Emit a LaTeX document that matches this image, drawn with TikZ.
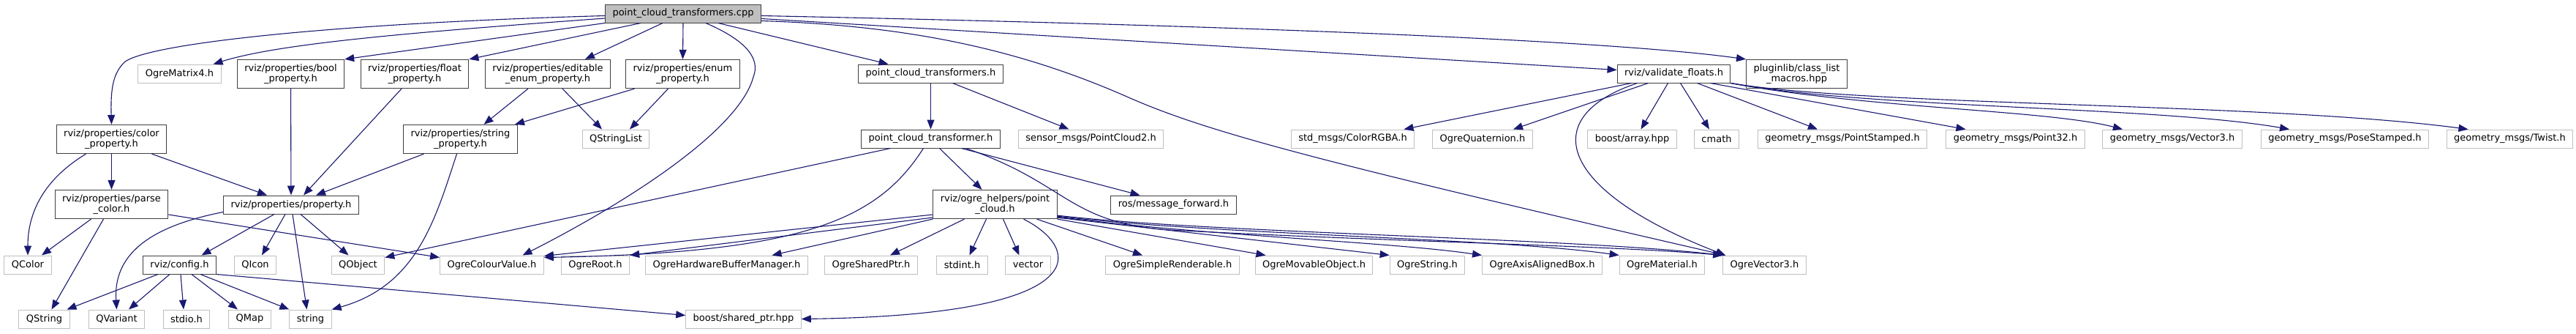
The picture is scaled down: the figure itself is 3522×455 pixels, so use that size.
\documentclass[tikz,border=0pt]{standalone}
\usepackage{fontspec}
\setmainfont{DejaVu Sans}
\usepackage{xcolor}
\usepackage{tikz}
\usetikzlibrary{arrows.meta}

\definecolor{navy}{HTML}{191970}
\definecolor{grey75}{HTML}{BFBFBF}

\begin{document}
\begin{tikzpicture}[x=1pt,y=-1pt,>={Triangle[length=13pt,width=10pt]},
   font=\fontsize{13}{14.3}\selectfont,
   fbase/.style={rectangle,draw,fill=white,line width=1pt,align=center,
     inner xsep=10pt,inner ysep=6pt,minimum height=25pt},
   fdoc/.style={fbase,draw=black!75},
   fext/.style={fbase,draw=grey75},
   dep/.style={->,color=navy,line width=1.1pt}]
  \useasboundingbox (0,0) rectangle (3522,455);

  % files
  \node[fdoc,fill=grey75] (cpp) at (934,18.5) {point\_cloud\_transformers.cpp};

  \node[fext] (matrix4) at (245.5,100.5) {OgreMatrix4.h};
  \node[fdoc] (boolp)   at (397.5,101)   {rviz/properties/bool\\\_property.h};
  \node[fdoc] (floatp)  at (567,101)     {rviz/properties/float\\\_property.h};
  \node[fdoc] (editp)   at (749,101)     {rviz/properties/editable\\\_enum\_property.h};
  \node[fdoc] (enump)   at (933.5,101)   {rviz/properties/enum\\\_property.h};
  \node[fdoc] (pcts)    at (1272.5,100.5) {point\_cloud\_transformers.h};
  \node[fdoc] (valid)   at (2288.5,100.5) {rviz/validate\_floats.h};
  \node[fdoc] (plugin)  at (2456.5,101)  {pluginlib/class\_list\\\_macros.hpp};

  \node[fdoc] (colorp)    at (152.5,190)  {rviz/properties/color\\\_property.h};
  \node[fdoc] (stringp)   at (629.5,190)  {rviz/properties/string\\\_property.h};
  \node[fext] (qstrlist)  at (842,189.5)  {QStringList};
  \node[fdoc] (pctr)      at (1272.5,189.5) {point\_cloud\_transformer.h};
  \node[fext] (pc2)       at (1491.5,189.5) {sensor\_msgs/PointCloud2.h};
  \node[fext] (rgba)      at (1849.5,189.5) {std\_msgs/ColorRGBA.h};
  \node[fext] (quat)      at (2027,189.5) {OgreQuaternion.h};
  \node[fext] (array)     at (2231.5,189.5) {boost/array.hpp};
  \node[fext] (cmath)     at (2347,189.5) {cmath};
  \node[fext] (ptstamped) at (2519,189.5) {geometry\_msgs/PointStamped.h};
  \node[fext] (pt32)      at (2755.5,189.5) {geometry\_msgs/Point32.h};
  \node[fext] (vec3msg)   at (2970,189.5) {geometry\_msgs/Vector3.h};
  \node[fext] (posest)    at (3206,189.5) {geometry\_msgs/PoseStamped.h};
  \node[fext] (twist)     at (3431.5,189.5) {geometry\_msgs/Twist.h};

  \node[fdoc] (parsec) at (152.5,279)  {rviz/properties/parse\\\_color.h};
  \node[fdoc] (prop)   at (398,279.5)  {rviz/properties/property.h};
  \node[fdoc] (pcloud) at (1360.5,279) {rviz/ogre\_helpers/point\\\_cloud.h};
  \node[fdoc] (msgfwd) at (1604.5,279.5) {ros/message\_forward.h};

  \node[fext] (qcolor)   at (38,361.5)   {QColor};
  \node[fdoc] (config)   at (245.5,361.5) {rviz/config.h};
  \node[fext] (qicon)    at (349,361.5)  {QIcon};
  \node[fext] (qobject)  at (489.5,361.5) {QObject};
  \node[fext] (colour)   at (672.5,361.5) {OgreColourValue.h};
  \node[fext] (root)     at (814,361.5)  {OgreRoot.h};
  \node[fext] (hwbuf)    at (993.5,361.5) {OgreHardwareBufferManager.h};
  \node[fext] (shptr)    at (1191,361.5) {OgreSharedPtr.h};
  \node[fext] (stdint)   at (1315.5,361.5) {stdint.h};
  \node[fext] (vector)   at (1405.5,361.5) {vector};
  \node[fext] (simple)   at (1603,361.5) {OgreSimpleRenderable.h};
  \node[fext] (movable)  at (1796.5,361.5) {OgreMovableObject.h};
  \node[fext] (ogrestr)  at (1951.5,361.5) {OgreString.h};
  \node[fext] (aabb)     at (2108.5,361.5) {OgreAxisAlignedBox.h};
  \node[fext] (material) at (2272.5,361.5) {OgreMaterial.h};
  \node[fext] (ogrevec)  at (2412.5,361.5) {OgreVector3.h};

  \node[fext] (qstring)  at (60.5,435.5)  {QString};
  \node[fext] (qvariant) at (159.5,435.5) {QVariant};
  \node[fext] (stdio)    at (255,435.5)   {stdio.h};
  \node[fext] (qmap)     at (341.5,435.5) {QMap};
  \node[fext] (string)   at (424.5,435.5) {string};
  \node[fext] (boostsp)  at (1016.5,435.5) {boost/shared\_ptr.hpp};

  % includes of the .cpp
  \draw[dep] ([yshift=-3pt]cpp.west) .. controls (450,32) and (200,60) .. (170,85)
     .. controls (155,100) and (151,120) .. (colorp.north);
  \draw[dep] ([yshift=-6.5pt]cpp.west) .. controls (550,45) and (380,60) .. ([xshift=-11pt]matrix4.north east);
  \draw[dep] (cpp.south west) -- (boolp.north east);
  \draw[dep] ([xshift=49pt]cpp.south west) -- (floatp.north east);
  \draw[dep] ([xshift=-28pt]cpp.south) -- ([xshift=51pt]editp.north);
  \draw[dep] (cpp.south) -- (enump.north);
  \draw[dep] ([xshift=31pt]cpp.south) .. controls (1020,55) and (1040,80) .. (1030,105)
     .. controls (1010,180) and (850,280) .. ([xshift=42pt]colour.north);
  \draw[dep] ([xshift=48pt]cpp.south) -- ([xshift=-58pt]pcts.north);
  \draw[dep] ([yshift=-7pt]cpp.east) -- ([yshift=5pt]valid.west);
  \draw[dep] ([yshift=-3pt]cpp.east) .. controls (1700,35) and (2200,55) .. (plugin.north west);
  \draw[dep] ([yshift=-10pt]cpp.east) .. controls (1250,35) and (1400,70) .. (1543,133)
     .. controls (1650,180) and (1800,220) .. ([xshift=4pt]ogrevec.north west);

  % properties
  \draw[dep] ([xshift=-35pt]colorp.south) .. controls (60,245) and (38,290) .. (qcolor.north);
  \draw[dep] (colorp) -- (parsec);
  \draw[dep] ([xshift=55pt]colorp.south) -- ([xshift=-33pt]prop.north);
  \draw[dep] ([xshift=-28pt]parsec.south) -- ([xshift=19pt]qcolor.north);
  \draw[dep] ([xshift=-11pt]parsec.south) -- ([xshift=10pt]qstring.north);
  \draw[dep] ([yshift=-14pt]parsec.east) -- ([yshift=10pt]colour.west);
  \draw[dep] ([yshift=-10pt]prop.west) .. controls (200,310) and (155,350) .. (qvariant.north);
  \draw[dep] ([xshift=-23pt]prop.south) -- ([xshift=30pt]config.north);
  \draw[dep] ([xshift=-8pt]prop.south) -- ([xshift=9pt]qicon.north);
  \draw[dep] ([xshift=2pt]prop.south) -- ([xshift=-5pt]string.north);
  \draw[dep] ([xshift=13pt]prop.south) -- ([xshift=-13pt]qobject.north);
  \draw[dep] (boolp) -- (prop);
  \draw[dep] ([xshift=-18pt]floatp.south) -- ([xshift=17pt]prop.north);
  \draw[dep] ([xshift=-50pt]stringp.south) -- ([xshift=34pt]prop.north);
  \draw[dep] ([xshift=-5pt]stringp.south) .. controls (595,300) and (570,390) .. (string.north east);
  \draw[dep] ([xshift=-27pt]editp.south) -- ([xshift=32pt]stringp.north);
  \draw[dep] ([xshift=20pt]editp.south) -- ([xshift=-19pt]qstrlist.north);
  \draw[dep] ([xshift=-66pt]enump.south) -- ([xshift=-4pt]stringp.north east);
  \draw[dep] ([xshift=-20pt]enump.south) -- ([xshift=19pt]qstrlist.north);

  % config
  \draw[dep] ([xshift=-29.5pt]config.south) -- ([xshift=-4pt]qstring.north east);
  \draw[dep] ([xshift=-13.5pt]config.south) -- ([xshift=16.5pt]qvariant.north);
  \draw[dep] ([xshift=1.5pt]config.south) -- ([xshift=-4pt]stdio.north);
  \draw[dep] ([xshift=16.5pt]config.south) -- ([xshift=-16.5pt]qmap.north);
  \draw[dep] ([xshift=28.5pt]config.south) -- (string.north west);
  \draw[dep] (config.south east) -- ([yshift=5pt]boostsp.west);

  % transformers
  \draw[dep] (pcts) -- (pctr);
  \draw[dep] ([xshift=30pt]pcts.south) -- ([xshift=-30pt]pc2.north);
  \draw[dep] ([xshift=-55pt]pctr.south) -- ([yshift=10pt]qobject.east);
  \draw[dep] ([xshift=-10pt]pctr.south) .. controls (1200,300) and (1100,345) .. ([yshift=10pt]colour.east);
  \draw[dep] ([xshift=12pt]pctr.south) -- ([xshift=-18pt]pcloud.north);
  \draw[dep] ([xshift=42pt]pctr.south) -- ([xshift=-46pt]msgfwd.north);
  \draw[dep] ([xshift=48pt]pctr.south) .. controls (1460,250) and (1460,305) .. (1600,314)
     .. controls (1900,330) and (2200,335) .. (ogrevec.north west);

  % point cloud
  \draw[dep] ([yshift=-14pt]pcloud.west) -- ([yshift=12pt]colour.east);
  \draw[dep] ([yshift=-18pt]pcloud.west) -- (root.north east);
  \draw[dep] (pcloud.south west) -- ([xshift=62pt]hwbuf.north);
  \draw[dep] ([xshift=-42pt]pcloud.south) -- ([xshift=26pt]shptr.north);
  \draw[dep] ([xshift=-12pt]pcloud.south) -- ([xshift=10pt]stdint.north);
  \draw[dep] ([xshift=11pt]pcloud.south) -- ([xshift=-12pt]vector.north);
  \draw[dep] ([xshift=57pt]pcloud.south) -- ([xshift=-41pt]simple.north);
  \draw[dep] (pcloud.south east) -- ([xshift=-66pt]movable.north);
  \draw[dep] ([yshift=2pt]pcloud.south east) -- (ogrestr.north west);
  \draw[dep] ([yshift=3pt]pcloud.south east) .. controls (1650,322) and (1900,330) .. (aabb.north west);
  \draw[dep] ([yshift=4pt]pcloud.south east) .. controls (1650,320) and (2050,325) .. (material.north west);
  \draw[dep] ([yshift=5pt]pcloud.south east) .. controls (1650,318) and (2150,325) .. (ogrevec.north west);
  \draw[dep] ([xshift=39pt]pcloud.south) .. controls (1480,340) and (1500,430) .. (boostsp.east);

  % validate floats
  \draw[dep] ([xshift=-58pt]valid.south) -- ([xshift=70pt]rgba.north);
  \draw[dep] ([xshift=-35pt]valid.south) -- ([xshift=42pt]quat.north);
  \draw[dep] ([xshift=-8pt]valid.south) -- ([xshift=12pt]array.north);
  \draw[dep] ([xshift=9pt]valid.south) -- ([xshift=-10pt]cmath.north);
  \draw[dep] ([xshift=32pt]valid.south) -- ([xshift=-34pt]ptstamped.north);
  \draw[dep] ([xshift=50pt]valid.south) -- ([xshift=-68pt]pt32.north);
  \draw[dep] (valid.south east) .. controls (2550,148) and (2800,150) .. ([xshift=-68pt]vec3msg.north);
  \draw[dep] (valid.south east) .. controls (2550,148) and (2950,145) .. ([xshift=-76pt]posest.north);
  \draw[dep] (valid.south east) .. controls (2550,145) and (3100,140) .. ([xshift=-57pt]twist.north);
  \draw[dep] ([xshift=-50pt]valid.south) .. controls (2100,160) and (2130,260) .. ([xshift=4pt]ogrevec.north west);
\end{tikzpicture}
\end{document}
